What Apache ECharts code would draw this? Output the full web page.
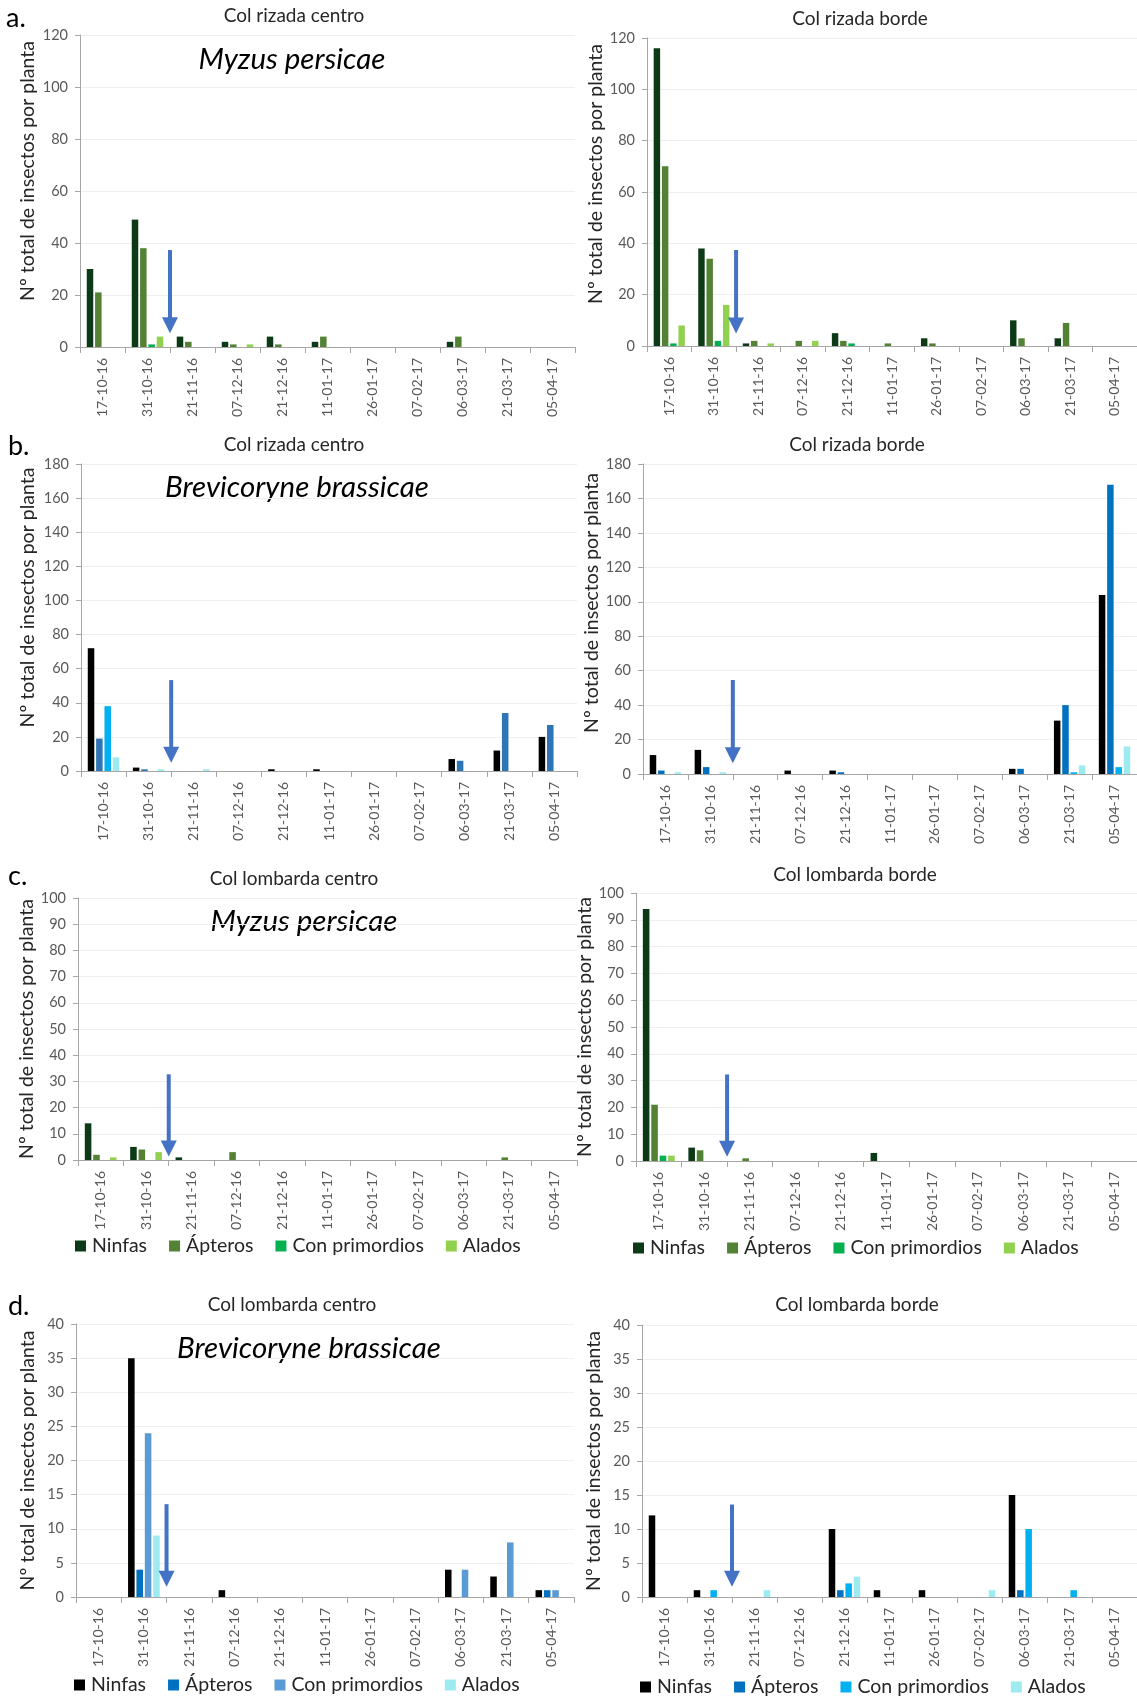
<!DOCTYPE html>
<html>
<head>
<meta charset="utf-8">
<script src="https://cdn.jsdelivr.net/npm/echarts@6/dist/echarts.min.js"></script>
<style>
html,body{margin:0;padding:0;background:#ffffff;}
#chart{width:1137px;height:1697px;}
</style>
</head>
<body>
<div id="chart"></div>
<script>
// ---------- DATA ----------
const categories = ['17-10-16','31-10-16','21-11-16','07-12-16','21-12-16','11-01-17','26-01-17','07-02-17','06-03-17','21-03-17','05-04-17'];
const seriesNames = ['Ninfas','Ápteros','Con primordios','Alados'];

// a. Col rizada centro (Myzus persicae)
const aCentroNinfas   = [30,49,4,2,4,2,0,0,2,0,0];
const aCentroApteros  = [21,38,2,1,1,4,0,0,4,0,0];
const aCentroPrimord  = [0,1,0,0,0,0,0,0,0,0,0];
const aCentroAlados   = [0,4,0,1,0,0,0,0,0,0,0];
// a. Col rizada borde (Myzus persicae)
const aBordeNinfas    = [116,38,1,0,5,0,3,0,10,3,0];
const aBordeApteros   = [70,34,2,2,2,1,1,0,3,9,0];
const aBordePrimord   = [1,2,0,0,1,0,0,0,0,0,0];
const aBordeAlados    = [8,16,1,2,0,0,0,0,0,0,0];
// b. Col rizada centro (Brevicoryne brassicae)
const bCentroNinfas   = [72,2,0,0,1,1,0,0,7,12,20];
const bCentroApteros  = [19,1,0,0,0,0,0,0,6,34,27];
const bCentroPrimord  = [38,0,0,0,0,0,0,0,0,0,0];
const bCentroAlados   = [8,1,1,0,0,0,0,0,0,0,0];
// b. Col rizada borde (Brevicoryne brassicae)
const bBordeNinfas    = [11,14,0,2,2,0,0,0,3,31,104];
const bBordeApteros   = [2,4,0,0,1,0,0,0,3,40,168];
const bBordePrimord   = [0,0,0,0,0,0,0,0,0,1,4];
const bBordeAlados    = [1,1,0,0,0,0,0,0,0,5,16];
// c. Col lombarda centro (Myzus persicae)
const cCentroNinfas   = [14,5,1,0,0,0,0,0,0,0,0];
const cCentroApteros  = [2,4,0,3,0,0,0,0,0,1,0];
const cCentroPrimord  = [0,0,0,0,0,0,0,0,0,0,0];
const cCentroAlados   = [1,3,0,0,0,0,0,0,0,0,0];
// c. Col lombarda borde (Myzus persicae)
const cBordeNinfas    = [94,5,0,0,0,3,0,0,0,0,0];
const cBordeApteros   = [21,4,1,0,0,0,0,0,0,0,0];
const cBordePrimord   = [2,0,0,0,0,0,0,0,0,0,0];
const cBordeAlados    = [2,0,0,0,0,0,0,0,0,0,0];
// d. Col lombarda centro (Brevicoryne brassicae)
const dCentroNinfas   = [0,35,0,1,0,0,0,0,4,3,1];
const dCentroApteros  = [0,4,0,0,0,0,0,0,0,0,1];
const dCentroPrimord  = [0,24,0,0,0,0,0,0,4,8,1];
const dCentroAlados   = [0,9,0,0,0,0,0,0,0,0,0];
// d. Col lombarda borde (Brevicoryne brassicae)
const dBordeNinfas    = [12,1,0,0,10,1,1,0,15,0,0];
const dBordeApteros   = [0,0,0,0,1,0,0,0,1,0,0];
const dBordePrimord   = [0,1,0,0,2,0,0,0,10,1,0];
const dBordeAlados    = [0,0,1,0,3,0,0,1,0,0,0];

// y-axis scales (max, step)
const yMaxA = 120, yStepA = 20;
const yMaxB = 180, yStepB = 20;
const yMaxC = 100, yStepC = 10;
const yMaxD = 40,  yStepD = 5;

// arrows: [category index (left side of boundary), top value, tip value]
const arrowA1 = [1, 37.3, 5.3];
const arrowA2 = [1, 37.4, 4.9];
const arrowB1 = [1, 53.3, 4.9];
const arrowB2 = [1, 54.6, 6.2];
const arrowC1 = [1, 32.7, 1.3];
const arrowC2 = [1, 32.3, 1.6];
const arrowD1 = [1, 13.6, 1.5];
const arrowD2 = [1, 13.6, 1.5];

const panelTitles = ['Col rizada centro','Col rizada borde','Col rizada centro','Col rizada borde',
                     'Col lombarda centro','Col lombarda borde','Col lombarda centro','Col lombarda borde'];
const yAxisName = 'Nº total de insectos por planta';

// ---------- STYLE ----------
const FONT = 'Lato, "Open Sans", sans-serif';
const myzusColors = ['#0D3A16','#548235','#00B050','#92D050'];
const bCentroColors = ['#000000','#2E75B6','#00B0F0','#9DEBF0'];
const bBordeColors  = ['#000000','#0070C0','#00B0F0','#9DEBF0'];
const dCentroColors = ['#000000','#0070C0','#5B9BD5','#9DEBF0'];
const dBordeColors  = ['#000000','#0070C0','#00B0F0','#9DEBF0'];
const arrowColor = '#4472C4';

// nameShift: upward offset (px) of the y-axis title relative to the plot centre
const panels = [
  {grid:{left:80, top:35,  width:495, height:312}, series:[aCentroNinfas,aCentroApteros,aCentroPrimord,aCentroAlados], colors:myzusColors, max:yMaxA, step:yStepA, arrow:arrowA1, nameGap:42, nameShift:20, tx:294, ty:16},
  {grid:{left:647,top:38,  width:491, height:308}, series:[aBordeNinfas,aBordeApteros,aBordePrimord,aBordeAlados],     colors:myzusColors, max:yMaxA, step:yStepA, arrow:arrowA2, nameGap:39, nameShift:18, tx:860, ty:19},
  {grid:{left:81, top:464, width:496, height:307}, series:[bCentroNinfas,bCentroApteros,bCentroPrimord,bCentroAlados], colors:bCentroColors, max:yMaxB, step:yStepB, arrow:arrowB1, nameGap:43, nameShift:20, tx:294, ty:445},
  {grid:{left:643,top:464, width:497, height:310}, series:[bBordeNinfas,bBordeApteros,bBordePrimord,bBordeAlados],     colors:bBordeColors, max:yMaxB, step:yStepB, arrow:arrowB2, nameGap:40, nameShift:16, tx:857, ty:445},
  {grid:{left:78, top:898, width:499, height:262}, series:[cCentroNinfas,cCentroApteros,cCentroPrimord,cCentroAlados], colors:myzusColors, max:yMaxC, step:yStepC, arrow:arrowC1, nameGap:40, nameShift:0, tx:294, ty:879},
  {grid:{left:636,top:893, width:504, height:268}, series:[cBordeNinfas,cBordeApteros,cBordePrimord,cBordeAlados],     colors:myzusColors, max:yMaxC, step:yStepC, arrow:arrowC2, nameGap:39, nameShift:0, tx:855, ty:875},
  {grid:{left:76, top:1324,width:498, height:273}, series:[dCentroNinfas,dCentroApteros,dCentroPrimord,dCentroAlados], colors:dCentroColors, max:yMaxD, step:yStepD, arrow:arrowD1, nameGap:38, nameShift:0, tx:292, ty:1305},
  {grid:{left:642,top:1325,width:497, height:272}, series:[dBordeNinfas,dBordeApteros,dBordePrimord,dBordeAlados],     colors:dBordeColors, max:yMaxD, step:yStepD, arrow:arrowD2, nameGap:38, nameShift:0, tx:857, ty:1305}
];

function renderArrow(params, api) {
  const idx = api.value(0);
  const pTop = api.coord([idx, api.value(1)]);
  const pTip = api.coord([idx, api.value(2)]);
  const half = api.size([1, 0])[0] / 2;
  const x = pTop[0] + half;
  const headH = 16, headW = 16, shaftW = 4;
  return {
    type: 'group',
    children: [
      {type:'rect', shape:{x:x - shaftW/2, y:pTop[1], width:shaftW, height:(pTip[1] - headH) - pTop[1] + 1}, style:{fill:arrowColor}},
      {type:'polygon', shape:{points:[[x - headW/2, pTip[1] - headH],[x + headW/2, pTip[1] - headH],[x, pTip[1]]]}, style:{fill:arrowColor}}
    ]
  };
}

const grids = [], xAxes = [], yAxes = [], series = [], graphics = [];
panels.forEach((p, i) => {
  grids.push(Object.assign({containLabel:false}, p.grid));
  xAxes.push({
    type:'category', gridIndex:i, data:categories, boundaryGap:true,
    axisLine:{show:true, lineStyle:{color:'#A6A6A6', width:1}},
    axisTick:{show:true, length:6, alignWithLabel:false, lineStyle:{color:'#A6A6A6'}},
    axisLabel:{rotate:90, fontSize:14, color:'#595959', fontFamily:FONT, margin:11, interval:0},
    splitLine:{show:false}
  });
  yAxes.push({
    type:'value', gridIndex:i, min:0, max:p.max, interval:p.step,
    name:yAxisName, nameLocation:'middle', nameRotate:90, nameGap:p.nameGap,
    nameTextStyle:{fontSize:19.5, color:'#262626', fontFamily:FONT, padding:[0,0,0,p.nameShift*2]},
    axisLine:{show:true, lineStyle:{color:'#A6A6A6', width:1}},
    axisTick:{show:true, length:5, lineStyle:{color:'#A6A6A6'}},
    axisLabel:{fontSize:14.5, color:'#595959', fontFamily:FONT, margin:12},
    splitLine:{show:true, lineStyle:{color:'#EFEFEF', width:1}}
  });
  p.series.forEach((vals, k) => {
    series.push({
      type:'bar', name:seriesNames[k], xAxisIndex:i, yAxisIndex:i,
      data:vals, barGap:'28%', barCategoryGap:'30%',
      itemStyle:{color:p.colors[k]}, silent:true, animation:false
    });
  });
  series.push({
    type:'custom', xAxisIndex:i, yAxisIndex:i, renderItem:renderArrow,
    data:[p.arrow], encode:{x:0, y:[1,2]}, silent:true, animation:false, z:10
  });
  graphics.push({type:'text', x:p.tx, y:p.ty,
    style:{text:panelTitles[i], fontSize:19, fontFamily:FONT, fill:'#262626', textAlign:'center', textVerticalAlign:'middle'}});
});

// panel letters and species labels
const letters = [['a.',6,18],['b.',8,446],['c.',8,876],['d.',8,1306]];
letters.forEach(l => graphics.push({type:'text', x:l[1], y:l[2],
  style:{text:l[0], fontSize:27, fontFamily:FONT, fill:'#000000', textAlign:'left', textVerticalAlign:'middle'}}));
const species = [['Myzus persicae',292,59],['Brevicoryne brassicae',297,487],['Myzus persicae',304,921],['Brevicoryne brassicae',309,1348]];
species.forEach(s => graphics.push({type:'text', x:s[1], y:s[2],
  style:{text:s[0], fontSize:29.5, fontStyle:'italic', fontFamily:FONT, fill:'#000000', textAlign:'center', textVerticalAlign:'middle'}}));

function legendFor(colors, left, top) {
  return {
    left:left, top:top, orient:'horizontal', itemGap:22, itemWidth:11, itemHeight:11, padding:0,
    icon:'rect', selectedMode:false,
    textStyle:{fontSize:19.5, color:'#262626', fontFamily:FONT, padding:[0,0,0,1]},
    data: seriesNames.map((n, k) => ({name:n, itemStyle:{color:colors[k]}}))
  };
}

const legends = [
  legendFor(myzusColors, 75, 1236),
  legendFor(myzusColors, 633, 1238),
  legendFor(dCentroColors, 74, 1675),
  legendFor(dBordeColors, 640, 1677)
];

const chart = echarts.init(document.getElementById('chart'), null, {renderer:'canvas'});
chart.setOption({
  animation:false,
  backgroundColor:'#ffffff',
  grid:grids, xAxis:xAxes, yAxis:yAxes, series:series,
  legend:legends,
  graphic:graphics
});
</script>
</body>
</html>
